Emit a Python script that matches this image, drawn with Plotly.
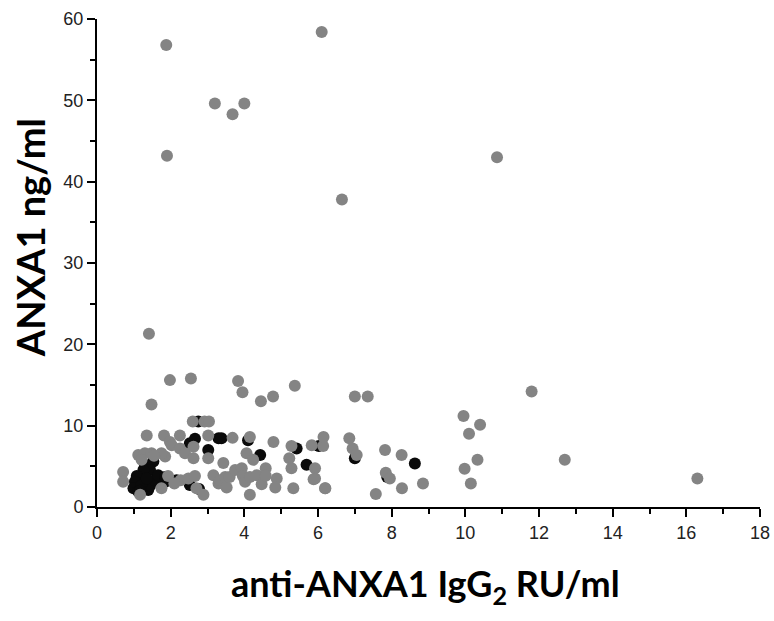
import plotly.graph_objects as go

# gray markers (majority of samples)
gray_x = [1.88, 6.10, 3.20, 4.00, 3.68, 1.90, 10.86, 6.65, 1.41,
          1.98, 2.55, 3.83, 3.95, 5.37, 4.78, 4.45, 1.48, 7.00, 7.35, 11.80,
          9.95, 10.40, 10.10, 9.98, 10.33, 10.15, 12.70, 16.30,
          2.60, 2.92, 3.04,
          1.35, 1.82, 2.25, 3.02, 3.68, 4.15, 4.79, 1.98, 2.03, 2.25, 2.39,
          2.62, 2.62, 1.85, 1.12, 1.30, 1.48, 1.75, 1.21, 3.02, 3.43, 4.06,
          4.24, 5.28, 5.22, 5.28, 5.83, 6.14, 6.15, 5.92, 5.92, 6.20, 6.85,
          6.94, 7.05, 7.82, 8.27, 7.84, 7.95, 7.57, 8.28, 8.85,
          0.71, 0.71, 1.17, 1.75, 2.27, 2.48, 2.66, 2.70, 2.89, 3.16, 3.30,
          3.34, 3.48, 3.52, 3.60, 3.75, 3.93, 3.96, 4.02, 4.15, 4.15, 4.34,
          4.47, 4.58, 4.58, 4.88, 4.84, 5.33, 5.88, 6.19, 1.93, 1.55, 2.10]
gray_y = [56.8, 58.4, 49.6, 49.6, 48.3, 43.2, 43.0, 37.8, 21.3,
          15.6, 15.8, 15.5, 14.1, 14.9, 13.6, 13.0, 12.6, 13.6, 13.6, 14.2,
          11.2, 10.1, 9.0, 4.7, 5.8, 2.9, 5.8, 3.5,
          10.5, 10.5, 10.5,
          8.8, 8.8, 8.8, 8.8, 8.5, 8.6, 8.0, 8.0, 7.6, 7.2, 6.6,
          6.0, 7.4, 6.2, 6.4, 6.6, 6.6, 6.6, 5.8, 6.0, 5.4, 6.6,
          5.8, 7.5, 6.0, 4.76, 7.6, 7.5, 8.6, 4.76, 3.5, 2.3, 8.45,
          7.2, 6.4, 7.0, 6.4, 4.2, 3.5, 1.6, 2.3, 2.9,
          4.3, 3.1, 1.5, 2.3, 3.3, 3.5, 3.8, 2.3, 1.5, 3.9, 2.9,
          3.3, 3.7, 2.4, 3.7, 4.55, 4.76, 3.8, 3.1, 1.5, 3.7, 3.9,
          2.8, 4.76, 3.85, 3.5, 2.4, 2.3, 3.4, 2.3, 3.8, 6.3, 2.9]

# black markers (second group, drawn underneath)
black_x = [2.75, 2.52, 2.66, 3.30, 3.38, 3.02, 4.10, 4.43, 5.42, 5.69,
           6.02, 7.00, 7.88, 8.63, 1.30, 1.53, 1.44, 1.26, 1.08, 1.03,
           0.99, 1.12, 1.30, 1.39, 1.44, 1.57, 1.66, 1.85, 1.94, 2.16,
           1.85, 2.52, 2.77, 1.20, 1.17, 1.35]
black_y = [10.5, 7.83, 8.4, 8.45, 8.45, 7.0, 8.2, 6.4, 7.2, 5.2,
           7.5, 6.0, 3.7, 5.35, 5.2, 5.6, 4.55, 4.55, 3.8, 3.1,
           2.3, 1.9, 3.1, 2.1, 2.6, 3.3, 3.9, 3.1, 3.3, 3.3,
           3.7, 2.7, 2.2, 2.6, 2.0, 3.5]

fig = go.Figure()
fig.add_trace(go.Scatter(x=black_x, y=black_y, mode="markers",
                         marker=dict(color="#0a0a0a", size=12, line=dict(width=0))))
fig.add_trace(go.Scatter(x=gray_x, y=gray_y, mode="markers",
                         marker=dict(color="#848484", size=12, line=dict(width=0))))

tick_font = dict(family="Liberation Sans Narrow, Liberation Sans, Arial", size=18, color="#222")
axis_common = dict(showline=True, linecolor="black", linewidth=2, ticks="outside",
                   ticklen=8, tickwidth=1.5, tickcolor="black", showgrid=False,
                   zeroline=False, tickfont=tick_font, automargin=False)

fig.update_layout(
    width=774, height=621,
    margin=dict(l=97, r=14, t=19, b=114),
    plot_bgcolor="white", paper_bgcolor="white",
    showlegend=False,
    xaxis=dict(range=[0, 18], dtick=2, tick0=0,
               minor=dict(ticks="outside", ticklen=5, dtick=1, tickcolor="black", tickwidth=1.5),
               **axis_common),
    yaxis=dict(range=[0, 60], dtick=10, tick0=0,
               minor=dict(ticks="outside", ticklen=5, dtick=5, tickcolor="black", tickwidth=1.5),
               **axis_common),
    annotations=[
        dict(text="anti-ANXA1 IgG<sub>2</sub> RU/ml", xref="paper", yref="paper",
             x=0.495, y=-0.16, xanchor="center", yanchor="middle", showarrow=False,
             font=dict(family="Lato", size=36, color="black", weight="bold")),
        dict(text="ANXA1 ng/ml", xref="paper", yref="paper", textangle=-90,
             x=-0.101, y=0.551, xanchor="center", yanchor="middle", showarrow=False,
             font=dict(family="Lato", size=38, color="black", weight="bold")),
    ],
)

# drop the default 8px body margin so the figure fills the window exactly
fig.write_html("out.html", config={"displayModeBar": False},
               post_script="document.body.style.margin='0';document.body.style.overflow='hidden';")
